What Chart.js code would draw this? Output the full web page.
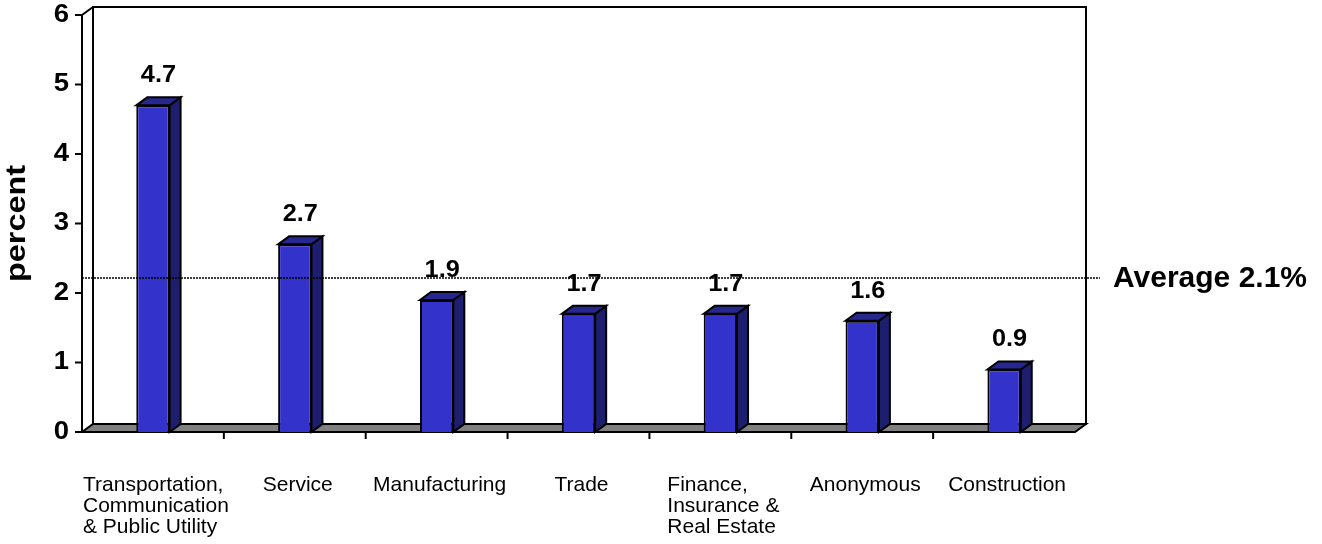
<!DOCTYPE html>
<html>
<head>
<meta charset="utf-8">
<script src="https://cdn.jsdelivr.net/npm/chart.js@4.4.1/dist/chart.umd.min.js"></script>
<style>
  body { margin: 0; background: #fff; }
  #wrap { width: 1322px; height: 544px; }
</style>
</head>
<body>
<div id="wrap"><canvas id="bars"></canvas></div>
<script>
// data
const categories = [
    ['Transportation,', 'Communication', '& Public Utility'],
    ['Service'],
    ['Manufacturing'],
    ['Trade'],
    ['Finance,', 'Insurance &', 'Real Estate'],
    ['Anonymous'],
    ['Construction'],
];
const percentValues = [4.7, 2.7, 1.9, 1.7, 1.7, 1.6, 0.9];
const yTicks = [0, 1, 2, 3, 4, 5, 6];
const averageValue = 2.1;
const averageLabel = 'Average 2.1%';

const DX = 11, DY = 8; // 3d depth
const FONT = '"Liberation Sans", Arial, sans-serif';

// draw text stretched sideways a little, like the original picture
function wideText(ctx, s, x, y, sx) {
    ctx.save();
    ctx.translate(x, y);
    ctx.scale(sx, 1);
    ctx.fillText(s, 0, 0);
    ctx.restore();
}

const threeD = {
    id: 'threeD',
    beforeDatasetsDraw(chart) {
        const ctx = chart.ctx;
        const a = chart.chartArea;
        const y = chart.scales.y;
        ctx.save();
        ctx.lineWidth = 2;
        ctx.strokeStyle = '#000';
        // back wall
        ctx.strokeRect(a.left + DX, a.top - DY, a.right - a.left, a.bottom - a.top);
        // left side wall edges
        ctx.beginPath();
        ctx.moveTo(a.left, a.top);
        ctx.lineTo(a.left + DX, a.top - DY);
        ctx.moveTo(a.left, a.top);
        ctx.lineTo(a.left, a.bottom);
        ctx.stroke();
        // floor
        ctx.beginPath();
        ctx.moveTo(a.left, a.bottom);
        ctx.lineTo(a.right, a.bottom);
        ctx.lineTo(a.right + DX, a.bottom - DY);
        ctx.lineTo(a.left + DX, a.bottom - DY);
        ctx.closePath();
        ctx.fillStyle = '#808080';
        ctx.fill();
        ctx.stroke();
        // y ticks + labels
        ctx.fillStyle = '#000';
        ctx.font = 'bold 25px ' + FONT;
        ctx.textAlign = 'right';
        ctx.textBaseline = 'middle';
        yTicks.forEach(v => {
            const py = y.getPixelForValue(v);
            ctx.beginPath();
            ctx.moveTo(a.left - 7, py);
            ctx.lineTo(a.left, py);
            ctx.stroke();
            wideText(ctx, String(v), a.left - 13, py, 1.1);
        });
        // x category ticks
        const x = chart.scales.x;
        for (let i = 1; i < categories.length; i++) {
            const px = (x.getPixelForValue(i - 1) + x.getPixelForValue(i)) / 2;
            ctx.beginPath();
            ctx.moveTo(px, a.bottom);
            ctx.lineTo(px, a.bottom + 7);
            ctx.stroke();
        }
        // y title
        ctx.save();
        ctx.translate(25, (a.top + a.bottom) / 2);
        ctx.rotate(-Math.PI / 2);
        ctx.scale(1.2, 1);
        ctx.font = 'bold 27px ' + FONT;
        ctx.textAlign = 'center';
        ctx.textBaseline = 'alphabetic';
        ctx.fillText('percent', 0, 0);
        ctx.restore();
        ctx.restore();
    },
    afterDatasetsDraw(chart) {
        const ctx = chart.ctx;
        const a = chart.chartArea;
        const meta = chart.getDatasetMeta(0);
        ctx.save();
        ctx.lineWidth = 2;
        ctx.strokeStyle = '#000';
        meta.data.forEach(bar => {
            const l = bar.x - bar.width / 2, r = bar.x + bar.width / 2;
            // side
            ctx.beginPath();
            ctx.moveTo(r, bar.y);
            ctx.lineTo(r + DX, bar.y - DY);
            ctx.lineTo(r + DX, bar.base - DY);
            ctx.lineTo(r, bar.base);
            ctx.closePath();
            ctx.fillStyle = '#1E1E6E';
            ctx.fill();
            ctx.stroke();
            // top
            ctx.beginPath();
            ctx.moveTo(l, bar.y);
            ctx.lineTo(l + DX, bar.y - DY);
            ctx.lineTo(r + DX, bar.y - DY);
            ctx.lineTo(r, bar.y);
            ctx.closePath();
            ctx.fillStyle = '#272790';
            ctx.fill();
            ctx.stroke();
        });
        // average line (on back wall)
        const ay = chart.scales.y.getPixelForValue(averageValue) - DY;
        ctx.lineWidth = 1.5;
        ctx.setLineDash([2, 1]);
        ctx.beginPath();
        ctx.moveTo(a.left, ay);
        ctx.lineTo(a.right + 25, ay);
        ctx.stroke();
        ctx.setLineDash([]);
        ctx.fillStyle = '#000';
        ctx.font = 'bold 30px ' + FONT;
        ctx.textAlign = 'left';
        ctx.textBaseline = 'middle';
        ctx.fillText(averageLabel, a.right + 38, ay + 1);
        // value labels
        ctx.font = 'bold 23px ' + FONT;
        ctx.textAlign = 'center';
        ctx.textBaseline = 'alphabetic';
        meta.data.forEach((bar, i) => {
            wideText(ctx, percentValues[i].toFixed(1), bar.x + DX / 2, bar.y - DY - 15, 1.1);
        });
        // category labels, left aligned blocks centred on category
        const x = chart.scales.x;
        ctx.font = '21px ' + FONT;
        ctx.textAlign = 'left';
        categories.forEach((lines, i) => {
            const w = Math.max(...lines.map(s => ctx.measureText(s).width));
            const cx = x.getPixelForValue(i) + 3;
            lines.forEach((s, k) => {
                ctx.fillText(s, cx - w / 2, 491 + k * 21);
            });
        });
        ctx.restore();
    }
};

const barCtx = document.getElementById('bars');
window.myBar = new Chart(barCtx, {
    type: 'bar',
    data: {
        labels: categories,
        datasets: [
            {
                data: percentValues,
                backgroundColor: '#3333CC',
                borderColor: '#000',
                borderWidth: 2,
                barPercentage: 0.47,
                categoryPercentage: 0.5,
            },
        ],
    },
    options: {
        responsive: true,
        maintainAspectRatio: false,
        animation: false,
        layout: { padding: { left: 82, right: 247, top: 15, bottom: 112 } },
        plugins: { legend: { display: false }, tooltip: { enabled: false } },
        scales: {
            x: { display: false },
            y: { display: false, min: 0, max: 6 },
        },
    },
    plugins: [threeD],
});
</script>
</body>
</html>
